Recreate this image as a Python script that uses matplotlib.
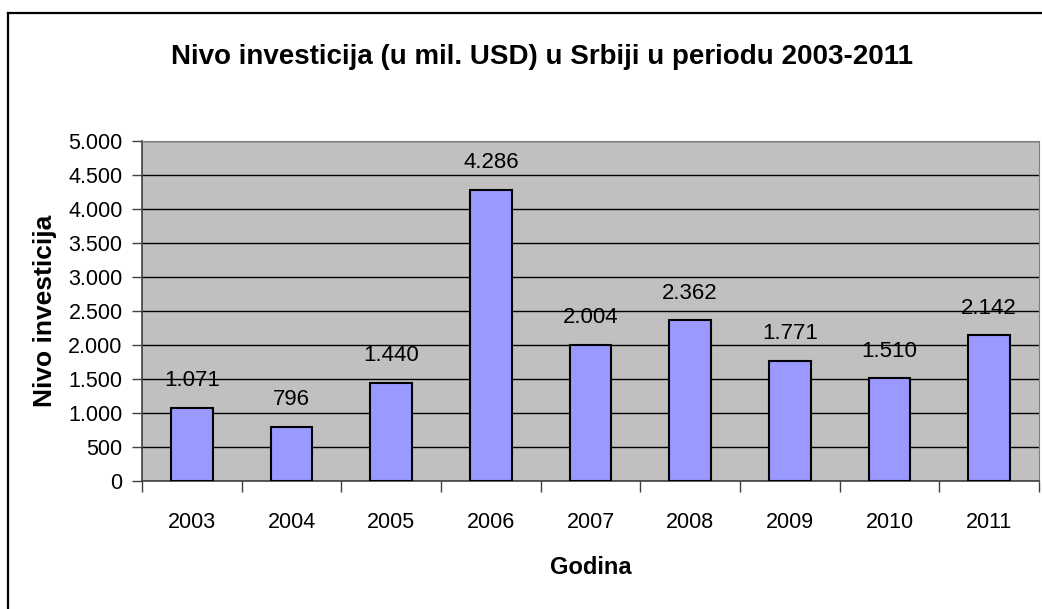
"""Investment level in Serbia 2003-2011 / bar chart."""

import matplotlib.pyplot as plt
from matplotlib.lines import Line2D
from matplotlib.ticker import FuncFormatter

plt.rcParams['font.family'] = ['Liberation Sans', 'DejaVu Sans']

years = ["2003", "2004", "2005", "2006", "2007", "2008", "2009", "2010", "2011"]
values = [1071, 796, 1440, 4286, 2004, 2362, 1771, 1510, 2142]
y_ticks = [0, 500, 1000, 1500, 2000, 2500, 3000, 3500, 4000, 4500, 5000]


def dot_thousands(v, _pos=None):
    # Serbian style: dot as thousands separator
    return f"{int(v):,}".replace(",", ".")


fig = plt.figure(figsize=(10.42, 6.09), dpi=100)
ax = fig.add_axes([0.1363, 0.2102, 0.8608, 0.5583])
ax.set_facecolor("#C0C0C0")

x = list(range(len(years)))
ax.bar(x, values, width=0.42, color="#9999FF", edgecolor="black", linewidth=1.5, zorder=3)

for xi, v in zip(x, values):
    ax.annotate(dot_thousands(v), (xi, v), xytext=(0, 12), textcoords="offset points",
                ha="center", va="bottom", fontsize=16)

ax.set_xlim(-0.5, len(years) - 0.5)
ax.set_ylim(0, 5000)
ax.set_yticks(y_ticks)
ax.yaxis.set_major_formatter(FuncFormatter(dot_thousands))
ax.yaxis.grid(True, color="black", linewidth=1, zorder=1)
ax.set_axisbelow(True)

# labels centred under bars, tick marks between categories
ax.set_xticks(x)
ax.set_xticklabels(years)
ax.set_xticks([i - 0.5 for i in range(len(years) + 1)], minor=True)
ax.tick_params(axis="x", which="major", length=0, pad=22, labelsize=15.5)
ax.tick_params(axis="x", which="minor", length=8, width=1, color="#404040")
ax.tick_params(axis="y", length=7, width=1, pad=7, labelsize=15.5, color="#404040")

for side in ("top", "right"):
    ax.spines[side].set_color("#808080")
for side in ("left", "bottom"):
    ax.spines[side].set_color("#404040")
    ax.spines[side].set_linewidth(1.2)

ax.set_ylabel("Nivo investicija", fontsize=19, fontweight="bold", labelpad=8)
ax.set_xlabel("Godina", fontsize=17, fontweight="bold", labelpad=17)

fig.text(0.52, 0.906, "Nivo investicija (u mil. USD) u Srbiji u periodu 2003-2011",
         ha="center", va="center", fontsize=20, fontweight="bold")

# outer chart frame (only left and top edges visible in the crop)
fig.add_artist(Line2D([7.5 / 1042, 7.5 / 1042], [0, 1 - 12.5 / 609], color="black", linewidth=1.6))
fig.add_artist(Line2D([7.5 / 1042, 1], [1 - 12.5 / 609, 1 - 12.5 / 609], color="black", linewidth=1.6))

fig.savefig("out.png", dpi=100)
plt.close(fig)
